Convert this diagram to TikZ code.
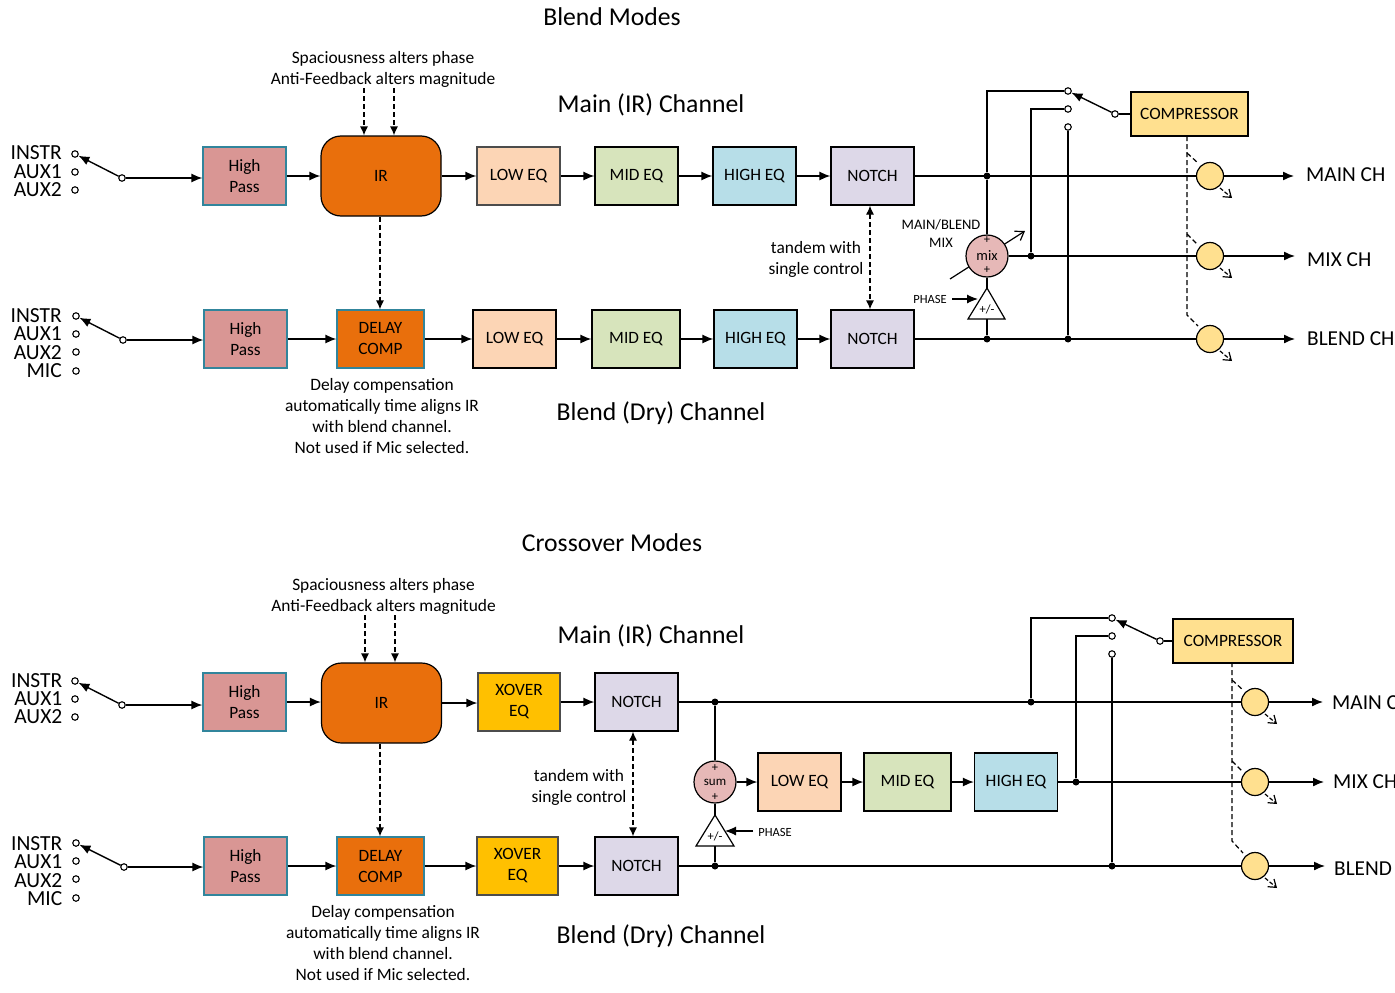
\documentclass[tikz,border=0pt]{standalone}
\usepackage{fontspec}
\setmainfont{Carlito}
\usepackage{xcolor}
\usetikzlibrary{arrows.meta}
\definecolor{pink}{HTML}{D99694}
\definecolor{teal}{HTML}{31859C}
\definecolor{orange}{HTML}{E96F0C}
\definecolor{peach}{HTML}{FCD5B5}
\definecolor{sage}{HTML}{D7E4BC}
\definecolor{sky}{HTML}{B7DEE8}
\definecolor{lilac}{HTML}{DDD8E8}
\definecolor{straw}{HTML}{FFE08F}
\definecolor{amber}{HTML}{FFC000}
\definecolor{rose}{HTML}{E6B8B7}

\begin{document}
\begin{tikzpicture}[
    x=1pt, y=-1pt,
    block/.style={draw=black, line width=1.2pt, align=center, inner sep=0pt, font=\fontsize{17.3}{21}\selectfont},
    tblock/.style={block, draw=teal},
    term/.style={draw, circle, fill=white, line width=1.1pt, inner sep=0pt, minimum size=6.5pt},
    dot/.style={fill=black, circle, inner sep=0pt, minimum size=7pt},
    gain/.style={draw, circle, fill=straw, line width=1.2pt, inner sep=0pt, minimum size=27pt},
    summer/.style={draw, circle, fill=rose, line width=1.2pt, inner sep=0pt, minimum size=42pt, font=\fontsize{14.5}{14}\selectfont},
    sign/.style={inner sep=0pt, font=\fontsize{12.5}{12}\selectfont},
    title/.style={font=\fontsize{25.7}{28}\selectfont},
    note/.style={align=center, inner sep=0pt, font=\fontsize{17.4}{21}\selectfont},
    small/.style={align=center, inner sep=0pt, font=\fontsize{14.5}{18}\selectfont},
    phaselabel/.style={inner sep=0pt, font=\fontsize{12.5}{13}\selectfont},
    src/.style={anchor=east, inner sep=0pt, font=\fontsize{21.5}{19}\selectfont},
    outlabel/.style={anchor=west, inner sep=0pt, font=\fontsize{21.3}{20}\selectfont},
    wire/.style={line width=1.4pt},
    arrow/.style={wire, -{Latex[length=11pt, width=9pt]}},
    ctrl/.style={line width=1.2pt, dash pattern=on 5pt off 3pt},
    ctrlarrow/.style={ctrl, -{Latex[length=9pt, width=8pt]}},
    ctrlboth/.style={ctrl, {Latex[length=9pt, width=8pt]}-{Latex[length=9pt, width=8pt]}},
    knob/.style={line width=1.2pt, dash pattern=on 4pt off 2pt, -{Straight Barb[length=7pt, width=10pt]}},
]
\useasboundingbox (0,0) rectangle (1395,993);
\clip (0,0) rectangle (1395,993);

% Blend modes
\node[title] (blendtitle) at (612,17) {Blend Modes};
\node[note] (spa) at (383,69) {Spaciousness alters phase\\Anti-Feedback alters magnitude};
\node[title] (mainlabel) at (651,105) {Main (IR) Channel};
\node[title] (blendlabel) at (661,413) {Blend (Dry) Channel};

\foreach \n/\t/\y in {la1/INSTR/153, la2/AUX1/172, la3/AUX2/190, lb1/INSTR/316, lb2/AUX1/334, lb3/AUX2/353, lb4/MIC/371} {
    \node[src] (\n) at (62,\y) {\t};
}
\foreach \n/\x/\y in {ina1/75/154, ina2/75/172, ina3/75/190, piva/122/178, inb1/76/316, inb2/76/334, inb3/76/352, inb4/76/371, pivb/123/340, cont1/1068/91, cont2/1068/109, cont3/1068/127, pivc/1115/114} {
    \node[term] (\n) at (\x,\y) {};
}

\node[tblock, fill=pink, minimum width=83pt, minimum height=58pt] (hpa) at (244.5,176) {High\\Pass};
\node[block, fill=orange, rounded corners=20pt, minimum width=120pt, minimum height=80pt] (ir) at (381,176) {IR};
\node[block, fill=peach, draw=black!70, minimum width=83pt, minimum height=58pt] (lowa) at (518.5,176) {LOW EQ};
\node[block, fill=sage, minimum width=83pt, minimum height=58pt] (mida) at (636.5,176) {MID EQ};
\node[block, fill=sky, minimum width=83pt, minimum height=58pt] (higha) at (754.5,176) {HIGH EQ};
\node[block, fill=lilac, minimum width=83pt, minimum height=58pt] (notcha) at (872.5,176) {NOTCH};

\node[tblock, fill=pink, minimum width=83pt, minimum height=58pt] (hpb) at (245.5,339) {High\\Pass};
\node[tblock, fill=orange, minimum width=87pt, minimum height=58pt] (delay) at (380.5,339) {DELAY\\COMP};
\node[block, fill=peach, minimum width=83pt, minimum height=58pt] (lowb) at (514.5,339) {LOW EQ};
\node[block, fill=sage, minimum width=88pt, minimum height=58pt] (midb) at (636,339) {MID EQ};
\node[block, fill=sky, minimum width=83pt, minimum height=58pt] (highb) at (755.5,339) {HIGH EQ};
\node[block, fill=lilac, minimum width=83pt, minimum height=58pt] (notchb) at (872.5,339) {NOTCH};

\node[note] (delaynote) at (382,416) {Delay compensation\\automatically time aligns IR\\with blend channel.\\Not used if Mic selected.};
\node[note] (tandem) at (816,259) {tandem with\\single control};
\node[small] (mixlabel) at (941,233) {MAIN/BLEND\\MIX};
\node[phaselabel] (phasea) at (930,299) {PHASE};

\node[block, fill=straw, minimum width=117pt, minimum height=44pt] (compa) at (1189.5,114) {COMPRESSOR};
\foreach \n/\y in {ga/176, gb/256, gc/339} {
    \node[gain] (\n) at (1210,\y) {};
}
\node[outlabel] (mainch) at (1306,175) {MAIN CH};
\node[outlabel] (mixch) at (1307,260) {MIX CH};
\node[outlabel] (blendch) at (1307,339) {BLEND CH};

\node[dot] (ja) at (987,176) {};
\node[dot] (jb) at (1031,256) {};
\node[dot] (jc) at (987,339) {};
\node[dot] (jd) at (1068,339) {};
\coordinate (sa) at (364,88);
\coordinate (sb) at (394,88);
\coordinate (kb1) at (950,279);
\coordinate (kb2) at (1025,231);
\coordinate (trap) at (987,288);
\coordinate (trl) at (968,319);
\coordinate (trr) at (1005,319);
\coordinate (phs) at (952,299);
\coordinate (phe) at (978,299);
\coordinate (tap0) at (1187,136);
\coordinate (tap1) at (1187,153);
\coordinate (tap2) at (1187,234);
\coordinate (tap3) at (1187,315);
\coordinate (tap4) at (1198,326);

\draw[line width=1.2pt, -{Straight Barb[length=8pt, width=11pt]}] (kb1) -- (kb2);
\node[summer] (mix) at (987,256) {mix};
\node[sign] (mixp) at (987,240) {+};
\node[sign] (mixm) at (987,270) {+};
\draw[line width=1.2pt, fill=white] (trap) -- (trl) -- (trr) -- cycle;
\node[sign] (flipa) at (987,309) {+/-};

\foreach \i/\j in {piva/ina1, pivb/inb1, pivc/cont1} {
    \draw[arrow] (\i) -- (\j);
}
\draw[arrow] (piva) -- (piva -| hpa.west);
\draw[arrow] (pivb) -- (pivb -| hpb.west);
\foreach \i/\j in {hpa/ir, ir/lowa, lowa/mida, mida/higha, higha/notcha, hpb/delay, delay/lowb, lowb/midb, midb/highb, highb/notchb} {
    \draw[arrow] (\i.east) -- (\i.east -| \j.west);
}
\foreach \i/\j in {ga/mainch, gb/mixch, gc/blendch} {
    \draw[arrow, shorten >=12pt] (\i.east) -- (\i.east -| \j.west);
}
\draw[wire] (notcha) -- (ga);
\draw[wire] (mix) -- (gb);
\draw[wire] (notchb) -- (gc);
\draw[wire] (mix.north) -- (ja);
\draw[wire] (ja) |- (cont1);
\draw[wire] (jb) |- (cont2);
\draw[wire] (jd) -- (cont3);
\draw[wire] (pivc) -- (compa.west |- pivc);
\draw[wire] (mix.south) -- (trap);
\draw[wire] (jc) -- (jc |- trl);
\draw[arrow, line width=1.1pt] (phs) -- (phe);

\draw[ctrlarrow] (sa) -- (sa |- ir.north);
\draw[ctrlarrow] (sb) -- (sb |- ir.north);
\draw[ctrlarrow] ([xshift=-1pt]ir.south) -- ([xshift=-0.5pt]delay.north);
\draw[ctrlboth] ([xshift=-2.5pt]notcha.south) -- ([xshift=-2.5pt]notchb.north);
\draw[ctrl] (tap0) -- (tap3) -- (tap4);
\draw[ctrl] (tap1) -- ++(11,10);
\draw[ctrl] (tap2) -- ++(11,11);
\foreach \n in {ga, gb, gc} {
    \draw[knob] ([shift={(10,12)}]\n.center) -- ([shift={(22,22)}]\n.center);
}

% Crossover modes
\node[title] (xtitle) at (612,543) {Crossover Modes};
\node[note] (xspa) at (383.5,596) {Spaciousness alters phase\\Anti-Feedback alters magnitude};
\node[title] (xmainlabel) at (651,636) {Main (IR) Channel};
\node[title] (xblendlabel) at (661,936) {Blend (Dry) Channel};

\foreach \n/\t/\y in {xla1/INSTR/681, xla2/AUX1/699, xla3/AUX2/717, xlb1/INSTR/844, xlb2/AUX1/862, xlb3/AUX2/881, xlb4/MIC/899} {
    \node[src] (\n) at (62.5,\y) {\t};
}
\foreach \n/\x/\y in {xina1/75/681, xina2/75/699, xina3/75/717, xpiva/122/705, xinb1/76/843, xinb2/76/861, xinb3/76/879, xinb4/76/898, xpivb/124/867, xcont1/1112/618, xcont2/1112/636, xcont3/1112/654, xpivc/1160/641} {
    \node[term] (\n) at (\x,\y) {};
}

\node[tblock, fill=pink, minimum width=83pt, minimum height=58pt] (xhpa) at (244.5,702) {High\\Pass};
\node[block, fill=orange, rounded corners=20pt, minimum width=120pt, minimum height=80pt] (xir) at (381.5,703) {IR};
\node[block, fill=amber, draw=black!70, minimum width=82pt, minimum height=58pt] (xova) at (519,702) {XOVER\\EQ};
\node[block, fill=lilac, minimum width=83pt, minimum height=58pt] (xnotcha) at (636.5,702) {NOTCH};

\node[tblock, fill=pink, minimum width=83pt, minimum height=58pt] (xhpb) at (245.5,866) {High\\Pass};
\node[tblock, fill=orange, minimum width=87pt, minimum height=58pt] (xdelay) at (380.5,866) {DELAY\\COMP};
\node[block, fill=amber, draw=black!70, minimum width=81pt, minimum height=58pt] (xovb) at (517.5,866) {XOVER\\EQ};
\node[block, fill=lilac, minimum width=83pt, minimum height=58pt] (xnotchb) at (636.5,866) {NOTCH};

\node[block, fill=peach, minimum width=83pt, minimum height=58pt] (xlow) at (799.5,782) {LOW EQ};
\node[block, fill=sage, minimum width=87pt, minimum height=58pt] (xmid) at (907.5,782) {MID EQ};
\node[block, fill=sky, minimum width=83pt, minimum height=58pt] (xhigh) at (1016,782) {HIGH EQ};

\node[note] (xdelaynote) at (383,943.5) {Delay compensation\\automatically time aligns IR\\with blend channel.\\Not used if Mic selected.};
\node[note] (xtandem) at (579,787) {tandem with\\single control};
\node[phaselabel] (xphase) at (775,832) {PHASE};

\node[block, fill=straw, minimum width=120pt, minimum height=44pt] (xcomp) at (1233,641) {COMPRESSOR};
\foreach \n/\y in {xga/702, xgb/782, xgc/866} {
    \node[gain] (\n) at (1255,\y) {};
}
\node[outlabel] (xmainch) at (1332,703) {MAIN CH};
\node[outlabel] (xmixch) at (1333,782) {MIX CH};
\node[outlabel] (xblendch) at (1334,869) {BLEND CH};

\node[dot] (xja) at (715,702) {};
\node[dot] (xjb) at (1031,702) {};
\node[dot] (xjc) at (1076,782) {};
\node[dot] (xjd) at (715,866) {};
\node[dot] (xje) at (1112,866) {};
\coordinate (xsa) at (365,615);
\coordinate (xsb) at (395,615);
\coordinate (xtrap) at (715,815);
\coordinate (xtrl) at (696,846);
\coordinate (xtrr) at (734,846);
\coordinate (xphs) at (753,831);
\coordinate (xphe) at (725,831);
\coordinate (xtap0) at (1232,662);
\coordinate (xtap1) at (1232,680);
\coordinate (xtap2) at (1232,761);
\coordinate (xtap3) at (1232,841);
\coordinate (xtap4) at (1243,853);

\node[summer] (xsum) at (715,782) {\fontsize{13}{13}\selectfont sum};
\node[sign] (xsump) at (715,768) {+};
\node[sign] (xsumm) at (715,797) {+};
\draw[line width=1.2pt, fill=white] (xtrap) -- (xtrl) -- (xtrr) -- cycle;
\node[sign] (xflip) at (715,836) {+/-};

\foreach \i/\j in {xpiva/xina1, xpivb/xinb1, xpivc/xcont1} {
    \draw[arrow] (\i) -- (\j);
}
\draw[arrow] (xpiva) -- (xpiva -| xhpa.west);
\draw[arrow] (xpivb) -- (xpivb -| xhpb.west);
\foreach \i/\j in {xhpa/xir, xir/xova, xova/xnotcha, xhpb/xdelay, xdelay/xovb, xovb/xnotchb, xsum/xlow, xlow/xmid, xmid/xhigh} {
    \draw[arrow] (\i.east) -- (\i.east -| \j.west);
}
\foreach \i/\j in {xga/xmainch, xgb/xmixch, xgc/xblendch} {
    \draw[arrow, shorten >=9pt] (\i.east) -- (\i.east -| \j.west);
}
\draw[wire] (xnotcha) -- (xga);
\draw[wire] (xhigh) -- (xgb);
\draw[wire] (xnotchb) -- (xgc);
\draw[wire] (xsum.north) -- (xja);
\draw[wire] (xjb) |- (xcont1);
\draw[wire] (xjc) |- (xcont2);
\draw[wire] (xje) -- (xcont3);
\draw[wire] (xpivc) -- (xcomp.west |- xpivc);
\draw[wire] (xsum.south) -- (xtrap);
\draw[wire] (xjd) -- (xjd |- xtrl);
\draw[arrow, line width=1.1pt] (xphs) -- (xphe);

\draw[ctrlarrow] (xsa) -- (xsa |- xir.north);
\draw[ctrlarrow] (xsb) -- (xsb |- xir.north);
\draw[ctrlarrow] ([xshift=-1.5pt]xir.south) -- ([xshift=-0.5pt]xdelay.north);
\draw[ctrlboth] ([xshift=-3.5pt]xnotcha.south) -- ([xshift=-3.5pt]xnotchb.north);
\draw[ctrl] (xtap0) -- (xtap3) -- (xtap4);
\draw[ctrl] (xtap1) -- ++(11,10);
\draw[ctrl] (xtap2) -- ++(11,11);
\foreach \n in {xga, xgb, xgc} {
    \draw[knob] ([shift={(10,12)}]\n.center) -- ([shift={(22,22)}]\n.center);
}

\end{tikzpicture}
\end{document}
